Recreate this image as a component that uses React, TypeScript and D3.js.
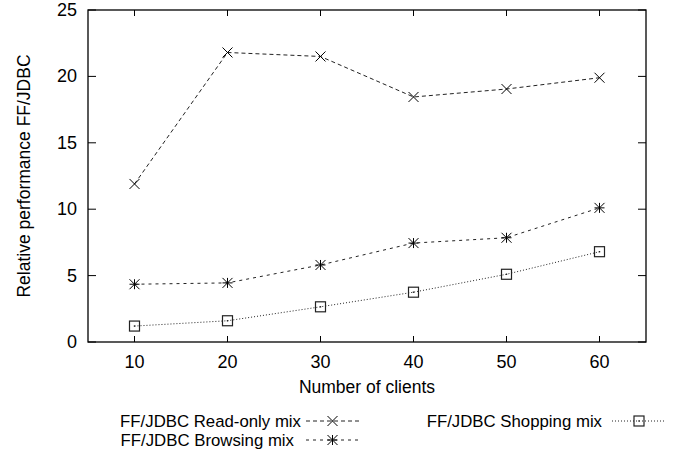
import React from 'react';
import * as d3 from 'd3';

// number of clients
const clients = [10, 20, 30, 40, 50, 60];

// relative performance FF/JDBC per mix
const readOnly = [11.9, 21.8, 21.5, 18.45, 19.05, 19.9];
const browsing = [4.35, 4.45, 5.8, 7.45, 7.85, 10.1];
const shopping = [1.2, 1.6, 2.65, 3.75, 5.1, 6.8];

const xTicks = [10, 20, 30, 40, 50, 60];
const yTicks = [0, 5, 10, 15, 20, 25];

const seriesNames = ['FF/JDBC Read-only mix', 'FF/JDBC Browsing mix', 'FF/JDBC Shopping mix'];

const W = 678, H = 450;
const left = 88, right = 646, top = 10, bottom = 342;
const FONT = '"Liberation Sans", Arial, Helvetica, sans-serif';

const x = d3.scaleLinear().domain([5, 65]).range([left, right]);
const y = d3.scaleLinear().domain([0, 25]).range([bottom, top]);

function Marker({ kind, cx, cy }: { kind: string; cx: number; cy: number }) {
    const s = 5;
    if (kind === 'x') {
        return <path d={`M${cx - s},${cy - s}L${cx + s},${cy + s}M${cx - s},${cy + s}L${cx + s},${cy - s}`} stroke="#000" strokeWidth={1} />;
    }
    if (kind === 'star') {
        return <path d={`M${cx - s},${cy - s}L${cx + s},${cy + s}M${cx - s},${cy + s}L${cx + s},${cy - s}M${cx - s},${cy}L${cx + s},${cy}M${cx},${cy - s}L${cx},${cy + s}`} stroke="#000" strokeWidth={1} />;
    }
    return (
        <g>
            <rect x={cx - 5} y={cy - 5} width={10} height={10} fill="none" stroke="#222" strokeWidth={1.2} />
            <rect x={cx - 0.7} y={cy - 0.7} width={1.4} height={1.4} fill="#222" />
        </g>
    );
}

const series = [
    { name: seriesNames[0], values: readOnly, dash: '4,3', kind: 'x' },
    { name: seriesNames[1], values: browsing, dash: '3,4', kind: 'star' },
    { name: seriesNames[2], values: shopping, dash: '1,2', kind: 'square' },
];

export default function App() {
    const line = d3.line<number>()
        .x((_, i) => x(clients[i]))
        .y(d => y(d));

    // legend layout: gnuplot style, text right-justified with sample after it
    const legend = [
        { s: series[0], textX: 301, ty: 427, x0: 306, x1: 359 },
        { s: series[1], textX: 294, ty: 446, x0: 306, x1: 359 },
        { s: series[2], textX: 602, ty: 427, x0: 612, x1: 666 },
    ];

    return (
        <svg width={W} height={H} style={{ position: 'absolute', left: 0, top: 0, background: '#fff' }}
             fontFamily={FONT}>
            <rect width={W} height={H} fill="#fff" />

            {/* ticks, mirrored on all four sides */}
            {xTicks.map(t => (
                <g key={'xt' + t}>
                    <line x1={x(t)} x2={x(t)} y1={bottom} y2={bottom - 6} stroke="#000" />
                    <line x1={x(t)} x2={x(t)} y1={top} y2={top + 6} stroke="#000" />
                    <text x={x(t)} y={368} textAnchor="middle" fontSize={18}>{t}</text>
                </g>
            ))}
            {yTicks.map(t => (
                <g key={'yt' + t}>
                    <line x1={left} x2={left + 8} y1={y(t)} y2={y(t)} stroke="#000" />
                    <line x1={right} x2={right - 8} y1={y(t)} y2={y(t)} stroke="#000" />
                    <text x={77} y={y(t) + 6} textAnchor="end" fontSize={18}>{t}</text>
                </g>
            ))}

            <rect x={left} y={top} width={right - left} height={bottom - top} fill="none" stroke="#000" strokeWidth={1.3} />

            <text x={(left + right) / 2} y={393} textAnchor="middle" fontSize={17.5}>Number of clients</text>
            <text transform={`translate(30,${(top + bottom) / 2}) rotate(-90)`} textAnchor="middle" fontSize={17.5}>
                Relative performance FF/JDBC
            </text>

            {series.map(s => (
                <g key={s.name}>
                    <path d={line(s.values) || ''} fill="none" stroke="#222" strokeWidth={1} strokeDasharray={s.dash} />
                    {s.values.map((v, i) => (
                        <Marker key={i} kind={s.kind} cx={x(clients[i])} cy={y(v)} />
                    ))}
                </g>
            ))}

            {legend.map(l => (
                <g key={'lg' + l.s.name}>
                    <text x={l.textX} y={l.ty} textAnchor="end" fontSize={16.8}>{l.s.name}</text>
                    <line x1={l.x0} x2={l.x1} y1={l.ty - 6} y2={l.ty - 6} stroke="#222" strokeDasharray={l.s.dash} />
                    <Marker kind={l.s.kind} cx={(l.x0 + l.x1) / 2} cy={l.ty - 6} />
                </g>
            ))}
        </svg>
    );
}
